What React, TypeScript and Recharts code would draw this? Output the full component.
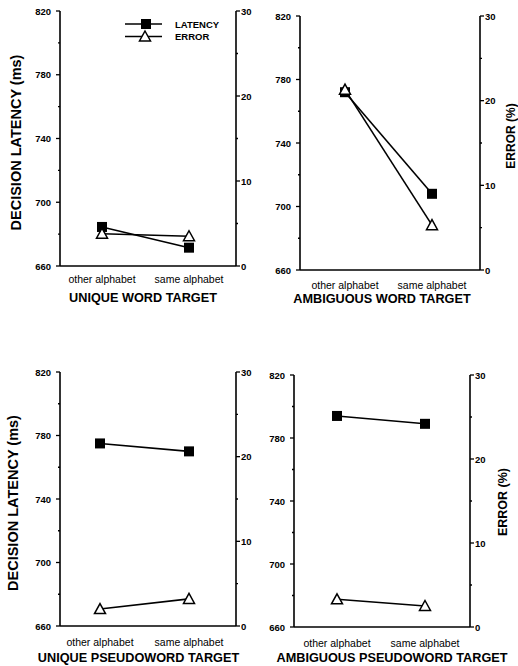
import React from "react";
import { LineChart, Line, XAxis, YAxis, Legend } from "recharts";

const categories = ["other alphabet", "same alphabet"];

const uniqueWordLatency = [684.5, 671.5];
const uniqueWordError = [3.8, 3.5];
const ambiguousWordLatency = [772, 708];
const ambiguousWordError = [21.3, 5.3];
const uniquePseudoLatency = [775, 770];
const uniquePseudoError = [2.0, 3.2];
const ambiguousPseudoLatency = [794, 789];
const ambiguousPseudoError = [3.3, 2.5];

const latencyTicks = [660, 680, 700, 720, 740, 760, 780, 800, 820];
const errorTicks = [0, 5, 10, 15, 20, 25, 30];

const FONT = "'Liberation Sans', Arial, Helvetica, sans-serif";

const build = (lat: number[], err: number[]) =>
  categories.map((c, i) => ({ cat: c, latency: lat[i], error: err[i] }));

// layout per panel (box in page px, plot edges in page px, label offsets)
const panels = [
  {
    title: "UNIQUE WORD TARGET", lat: uniqueWordLatency, err: uniqueWordError,
    box: { left: 0, top: 0, w: 260, h: 310 }, plot: { l: 60, r: 236, t: 11, b: 266 },
    pad: { left: 42, right: 47 }, tickDy: 13, titleDx: -5, titleDy: 32,
    yLabel: true, yLabelX: 16, yLabelDy: 4, errLabel: false, legend: true,
  },
  {
    title: "AMBIGUOUS WORD TARGET", lat: ambiguousWordLatency, err: ambiguousWordError,
    box: { left: 240, top: 0, w: 278, h: 310 }, plot: { l: 300, r: 480, t: 16, b: 270 },
    pad: { left: 45, right: 48 }, tickDy: 15, titleDx: -8, titleDy: 29,
    yLabel: false, errLabel: true, errDx: 31, errDy: -7, errSize: 12, legend: false,
  },
  {
    title: "UNIQUE PSEUDOWORD TARGET", lat: uniquePseudoLatency, err: uniquePseudoError,
    box: { left: 0, top: 330, w: 260, h: 336 }, plot: { l: 60, r: 236, t: 372, b: 626 },
    pad: { left: 40, right: 47 }, tickDy: 15.5, titleDx: -9.5, titleDy: 32,
    yLabel: true, yLabelX: 13, yLabelDy: 4, errLabel: false, legend: false,
  },
  {
    title: "AMBIGUOUS PSEUDOWORD TARGET", lat: ambiguousPseudoLatency, err: ambiguousPseudoError,
    box: { left: 240, top: 330, w: 278, h: 336 }, plot: { l: 294, r: 470, t: 375, b: 627 },
    pad: { left: 43, right: 45 }, tickDy: 16, titleDx: 10, titleDy: 31,
    yLabel: false, errLabel: true, errDx: 33, errDy: 1, errSize: 12.5, legend: false,
  },
];

const Square = ({ cx, cy }: any) => (
  <rect x={cx - 5} y={cy - 5} width={10} height={10} fill="#000" />
);
const Triangle = ({ cx, cy }: any) => (
  <path d={`M${cx},${cy - 5.5} L${cx + 5.5},${cy + 4.5} L${cx - 5.5},${cy + 4.5} Z`} fill="#fff" stroke="#000" strokeWidth={1.5} />
);

const LeftTick = ({ x, y, payload }: any) => {
  const major = (payload.value - 660) % 40 === 0;
  return (
    <g>
      <line x1={x} y1={y} x2={x - (major ? 4 : 2)} y2={y} stroke="#000" strokeWidth={1.3} />
      {major && (
        <text x={x - 9} y={y} textAnchor="end" dominantBaseline="central" fontSize={9.5} fontWeight="bold" fontFamily={FONT} fill="#000">
          {payload.value}
        </text>
      )}
    </g>
  );
};

const RightTick = ({ x, y, payload }: any) => {
  const major = payload.value % 10 === 0;
  return (
    <g>
      <line x1={x} y1={y} x2={x + (major ? 4 : 2)} y2={y} stroke="#000" strokeWidth={1.3} />
      {major && (
        <text x={x + 5} y={y} textAnchor="start" dominantBaseline="central" fontSize={9.5} fontWeight="bold" fontFamily={FONT} fill="#000">
          {payload.value}
        </text>
      )}
    </g>
  );
};

const LegendBox = ({ payload }: any) => {
  const items = [...(payload || [])].sort((a: any, b: any) =>
    a.dataKey === "latency" ? -1 : b.dataKey === "latency" ? 1 : 0
  );
  return (
    <svg width={110} height={32} style={{ display: "block" }}>
      {items.map((p: any, i: number) => {
        const y = 7 + i * 12.5;
        return (
          <g key={p.value}>
            <line x1={5} y1={y} x2={42} y2={y} stroke="#000" strokeWidth={1.5} />
            {p.dataKey === "latency" ? <Square cx={26} cy={y} /> : <Triangle cx={25} cy={y} />}
            <text x={55} y={y} dominantBaseline="central" fontSize={9.5} fontWeight="bold" fontFamily={FONT} fill="#000">
              {p.value}
            </text>
          </g>
        );
      })}
    </svg>
  );
};

function Panel({ cfg }: { cfg: any }) {
  const { box, plot } = cfg;
  const data = build(cfg.lat, cfg.err);
  const leftW = plot.l - box.left;
  const rightW = box.left + box.w - plot.r;
  const xH = box.top + box.h - plot.b;

  const XTick = ({ x, y, payload }: any) => (
    <text x={x} y={y + cfg.tickDy} textAnchor="middle" dominantBaseline="central" fontSize={10.5} fontFamily={FONT} fill="#000">
      {payload.value}
    </text>
  );

  return (
    <div style={{ position: "absolute", left: box.left, top: box.top, width: box.w, height: box.h }}>
      <LineChart
        width={box.w}
        height={box.h}
        data={data}
        margin={{ top: plot.t - box.top, right: 0, bottom: 0, left: 0 }}
        style={{ overflow: "visible" }}
      >
        <XAxis
          dataKey="cat"
          height={xH}
          padding={cfg.pad}
          interval={0}
          tickLine={false}
          tickSize={0}
          tickMargin={0}
          tick={<XTick />}
          axisLine={{ stroke: "#000", strokeWidth: 1.6 }}
          label={(props: any) => {
            const vb = props.viewBox || {};
            return (
              <text
                x={vb.x + vb.width / 2 + cfg.titleDx}
                y={vb.y + cfg.titleDy}
                textAnchor="middle"
                dominantBaseline="central"
                fontSize={12.7}
                fontWeight="bold"
                fontFamily={FONT}
                fill="#000"
              >
                {cfg.title}
              </text>
            );
          }}
        />
        <YAxis
          yAxisId="lat"
          orientation="left"
          width={leftW}
          domain={[660, 820]}
          ticks={latencyTicks}
          interval={0}
          tickLine={false}
          tickSize={0}
          tickMargin={0}
          tick={<LeftTick />}
          axisLine={{ stroke: "#000", strokeWidth: 1.6 }}
          label={
            cfg.yLabel
              ? (props: any) => {
                  const vb = props.viewBox || {};
                  const cy = vb.y + vb.height / 2 + cfg.yLabelDy;
                  const cx = vb.x + cfg.yLabelX;
                  return (
                    <text
                      x={cx}
                      y={cy}
                      transform={`rotate(-90, ${cx}, ${cy})`}
                      textAnchor="middle"
                      dominantBaseline="central"
                      fontSize={14.5}
                      fontWeight="bold"
                      fontFamily={FONT}
                      fill="#000"
                    >
                      DECISION LATENCY (ms)
                    </text>
                  );
                }
              : undefined
          }
        />
        <YAxis
          yAxisId="err"
          orientation="right"
          width={rightW}
          domain={[0, 30]}
          ticks={errorTicks}
          interval={0}
          tickLine={false}
          tickSize={0}
          tickMargin={0}
          tick={<RightTick />}
          axisLine={{ stroke: "#000", strokeWidth: 1.6 }}
          label={
            cfg.errLabel
              ? (props: any) => {
                  const vb = props.viewBox || {};
                  const cy = vb.y + vb.height / 2 + cfg.errDy;
                  const cx = vb.x + cfg.errDx;
                  return (
                    <text
                      x={cx}
                      y={cy}
                      transform={`rotate(-90, ${cx}, ${cy})`}
                      textAnchor="middle"
                      dominantBaseline="central"
                      fontSize={cfg.errSize}
                      fontWeight="bold"
                      fontFamily={FONT}
                      fill="#000"
                    >
                      ERROR (%)
                    </text>
                  );
                }
              : undefined
          }
        />
        {cfg.legend && (
          <Legend
            layout="vertical"
            align="center"
            verticalAlign="middle"
            content={<LegendBox />}
            wrapperStyle={{ position: "absolute", left: 120, top: 17, width: 110, height: 32 }}
          />
        )}
        <Line
          yAxisId="lat"
          dataKey="latency"
          name="LATENCY"
          stroke="#000"
          strokeWidth={1.6}
          dot={(p: any) => <Square key={`s${p.index}`} cx={p.cx} cy={p.cy} />}
          activeDot={false}
          isAnimationActive={false}
        />
        <Line
          yAxisId="err"
          dataKey="error"
          name="ERROR"
          stroke="#000"
          strokeWidth={1.6}
          dot={(p: any) => <Triangle key={`t${p.index}`} cx={p.cx} cy={p.cy} />}
          activeDot={false}
          isAnimationActive={false}
        />
      </LineChart>
    </div>
  );
}

export default function App() {
  return (
    <div style={{ position: "absolute", left: 0, top: 0, width: 518, height: 666, background: "#fff" }}>
      {panels.map((cfg) => (
        <Panel key={cfg.title} cfg={cfg} />
      ))}
    </div>
  );
}
